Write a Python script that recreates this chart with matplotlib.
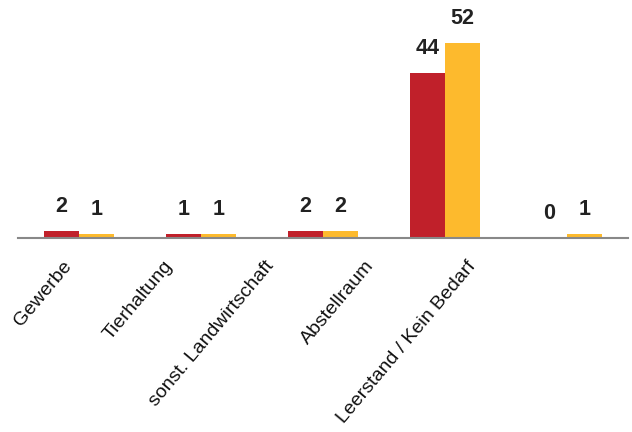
import matplotlib.pyplot as plt
import numpy as np

categories = ['Gewerbe', 'Tierhaltung', 'sonst. Landwirtschaft', 'Abstellraum',
              'Leerstand / Kein Bedarf']
serie_a = [2, 1, 2, 44, 0]
serie_b = [1, 1, 2, 52, 1]

plt.rcParams['font.family'] = ['Liberation Sans', 'DejaVu Sans']

fig = plt.figure(figsize=(6.32, 4.32), dpi=100)
ax = fig.add_axes([18/632, 194/432, 610/632, 225/432])

x = np.arange(len(categories))
w = 0.287
bars_a = ax.bar(x - w/2, serie_a, w, color='#C0202A')
bars_b = ax.bar(x + w/2, serie_b, w, color='#FDBA2D')

for bars in (bars_a, bars_b):
    for b in bars:
        ax.annotate(f'{int(b.get_height())}', (b.get_x() + b.get_width()/2, b.get_height()),
                    xytext=(0, 10), textcoords='offset points', ha='center', va='bottom',
                    fontsize=15.5, fontweight='bold', color='#222222')

ax.set_xlim(-0.5, 4.5)
ax.set_ylim(0, 60)
ax.set_yticks([])
for s in ['top', 'right', 'left']:
    ax.spines[s].set_visible(False)
ax.spines['bottom'].set_color('#888888')
ax.spines['bottom'].set_linewidth(1.5)

# labels sit on a tighter spacing than the bars
ax.set_xticks(x * 0.828 - 0.14)
ax.set_xticklabels(categories, rotation=50, ha='right', rotation_mode='anchor',
                   fontsize=14, color='#111111')
ax.tick_params(axis='x', length=0, pad=14)

fig.savefig('out.png', dpi=100)
